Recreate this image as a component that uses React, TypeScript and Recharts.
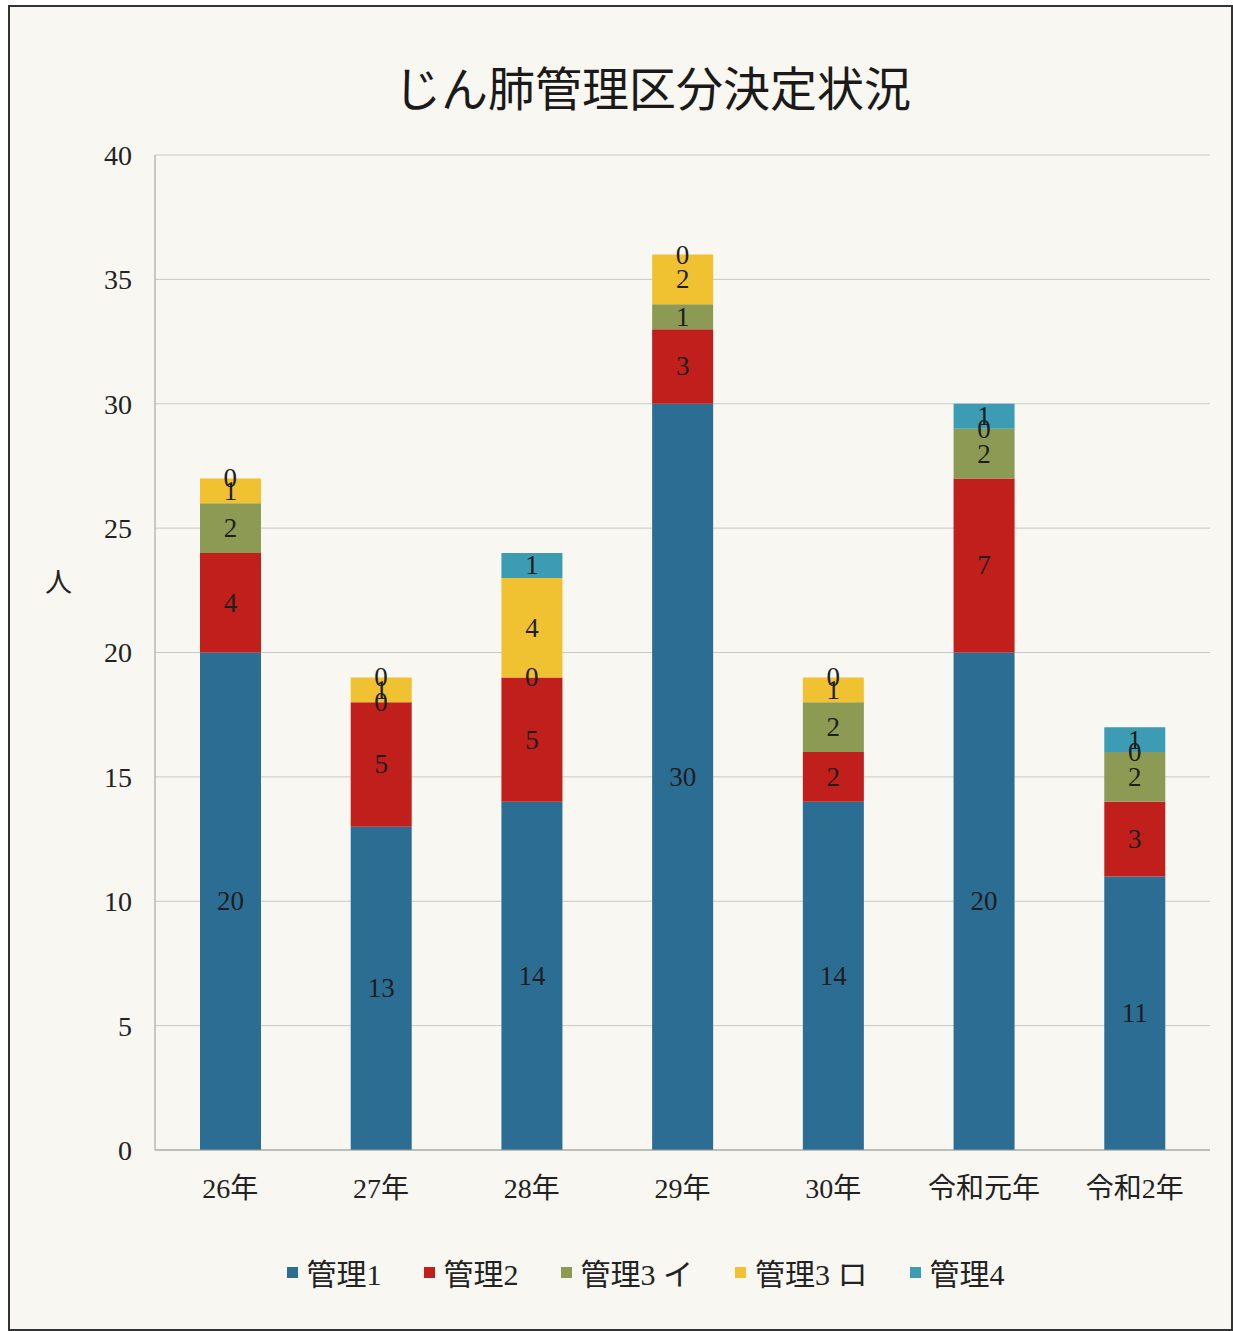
import { ComposedChart, Bar, Line, XAxis, YAxis, CartesianGrid, Legend, LabelList } from 'recharts'

const years = ['26年', '27年', '28年', '29年', '30年', '令和元年', '令和2年']
const kanri1 = [20, 13, 14, 30, 14, 20, 11]
const kanri2 = [4, 5, 5, 3, 2, 7, 3]
const kanri3i = [2, 0, 0, 1, 2, 2, 2]
const kanri3ro = [1, 1, 4, 2, 1, 0, 0]
const kanri4 = [0, 0, 1, 0, 0, 1, 1]
const yTicks = [0, 5, 10, 15, 20, 25, 30, 35, 40]

const series = [
  { key: 'k1', name: '管理1', color: '#2c6d93' },
  { key: 'k2', name: '管理2', color: '#c01f1b' },
  { key: 'k3i', name: '管理3 イ', color: '#8d9a53' },
  { key: 'k3ro', name: '管理3 ロ', color: '#f0c232' },
  { key: 'k4', name: '管理4', color: '#3c9cb3' },
]

const data = years.map((y, i) => ({
  year: y,
  k1: kanri1[i],
  k2: kanri2[i],
  k3i: kanri3i[i],
  k3ro: kanri3ro[i],
  k4: kanri4[i],
}))

// for a zero segment: where it sits in the stack (so its "0" can still be shown)
const zeroPos = (row: any, idx: number) => {
  if (row[series[idx].key] !== 0) return null
  let sum = 0
  for (let j = 0; j < idx; j++) sum += row[series[j].key]
  return sum
}

const FONT = "'Liberation Serif', 'Noto Sans CJK JP', serif"

function LegendBox() {
  return (
    <div style={{ display: 'flex', justifyContent: 'center', gap: 42, fontFamily: FONT, fontSize: 30, color: '#222', paddingRight: 14 }}>
      {series.map((s) => (
        <span key={s.key} style={{ display: 'flex', alignItems: 'center' }}>
          <span style={{ width: 11, height: 11, background: s.color, marginRight: 9, display: 'inline-block' }} />
          {s.name}
        </span>
      ))}
    </div>
  )
}

function SegLabel(props: any) {
  const { x, y, width, height, value } = props
  if (value === undefined || value === null) return null
  return (
    <text
      x={Number(x) + Number(width) / 2}
      y={Number(y) + Number(height) / 2}
      textAnchor="middle"
      dominantBaseline="central"
      fill="#1e1e1e"
      fontSize={27}
      fontFamily={FONT}
    >
      {value}
    </text>
  )
}

function ZeroDot(props: any) {
  const { cx, cy, value } = props
  if (value === null || value === undefined || cy == null) return <g />
  return (
    <text x={cx} y={cy} textAnchor="middle" dominantBaseline="central" fill="#1e1e1e" fontSize={27} fontFamily={FONT}>
      0
    </text>
  )
}

export default function App() {
  return (
    <div
      style={{
        position: 'absolute',
        left: 8,
        top: 5,
        width: 1221,
        height: 1322,
        border: '2px solid #333',
        background: '#f8f7f1',
        fontFamily: FONT,
      }}
    >
      <div
        style={{
          position: 'absolute',
          top: 55,
          left: 64,
          right: 0,
          textAlign: 'center',
          fontSize: 47,
          fontFamily: "'Noto Sans CJK JP', serif",
          color: '#1a1a1a',
          lineHeight: 1,
        }}
      >
        じん肺管理区分決定状況
      </div>
      <div style={{ position: 'absolute', left: 35, top: 554, fontSize: 27, color: '#222' }}>人</div>
      <ComposedChart
        width={1221}
        height={1322}
        data={data}
        margin={{ top: 148, right: 21, left: 85, bottom: 39 }}
        barSize={61}
      >
        <CartesianGrid stroke="#c9c9c6" vertical={false} />
        <XAxis
          dataKey="year"
          height={100}
          tickLine={false}
          axisLine={{ stroke: '#9a9a9a' }}
          tick={{ fontSize: 28, fill: '#222', fontFamily: FONT }}
          tickMargin={22}
        />
        <YAxis
          width={60}
          domain={[0, 40]}
          ticks={yTicks}
          tickLine={false}
          axisLine={{ stroke: '#9a9a9a' }}
          tick={{ fontSize: 28, fill: '#222', fontFamily: FONT }}
          tickMargin={17}
        />
        <Legend verticalAlign="bottom" content={() => <LegendBox />} wrapperStyle={{ height: 40 }} />
        {series.map((s) => (
          <Bar key={s.key} dataKey={s.key} name={s.name} stackId="a" fill={s.color} isAnimationActive={false}>
            <LabelList dataKey={s.key} content={SegLabel} />
          </Bar>
        ))}
        {series.map((s, idx) => (
          <Line
            key={'z' + s.key}
            dataKey={(row: any) => zeroPos(row, idx)}
            stroke="none"
            dot={ZeroDot}
            activeDot={false}
            legendType="none"
            isAnimationActive={false}
          />
        ))}
      </ComposedChart>
    </div>
  )
}
